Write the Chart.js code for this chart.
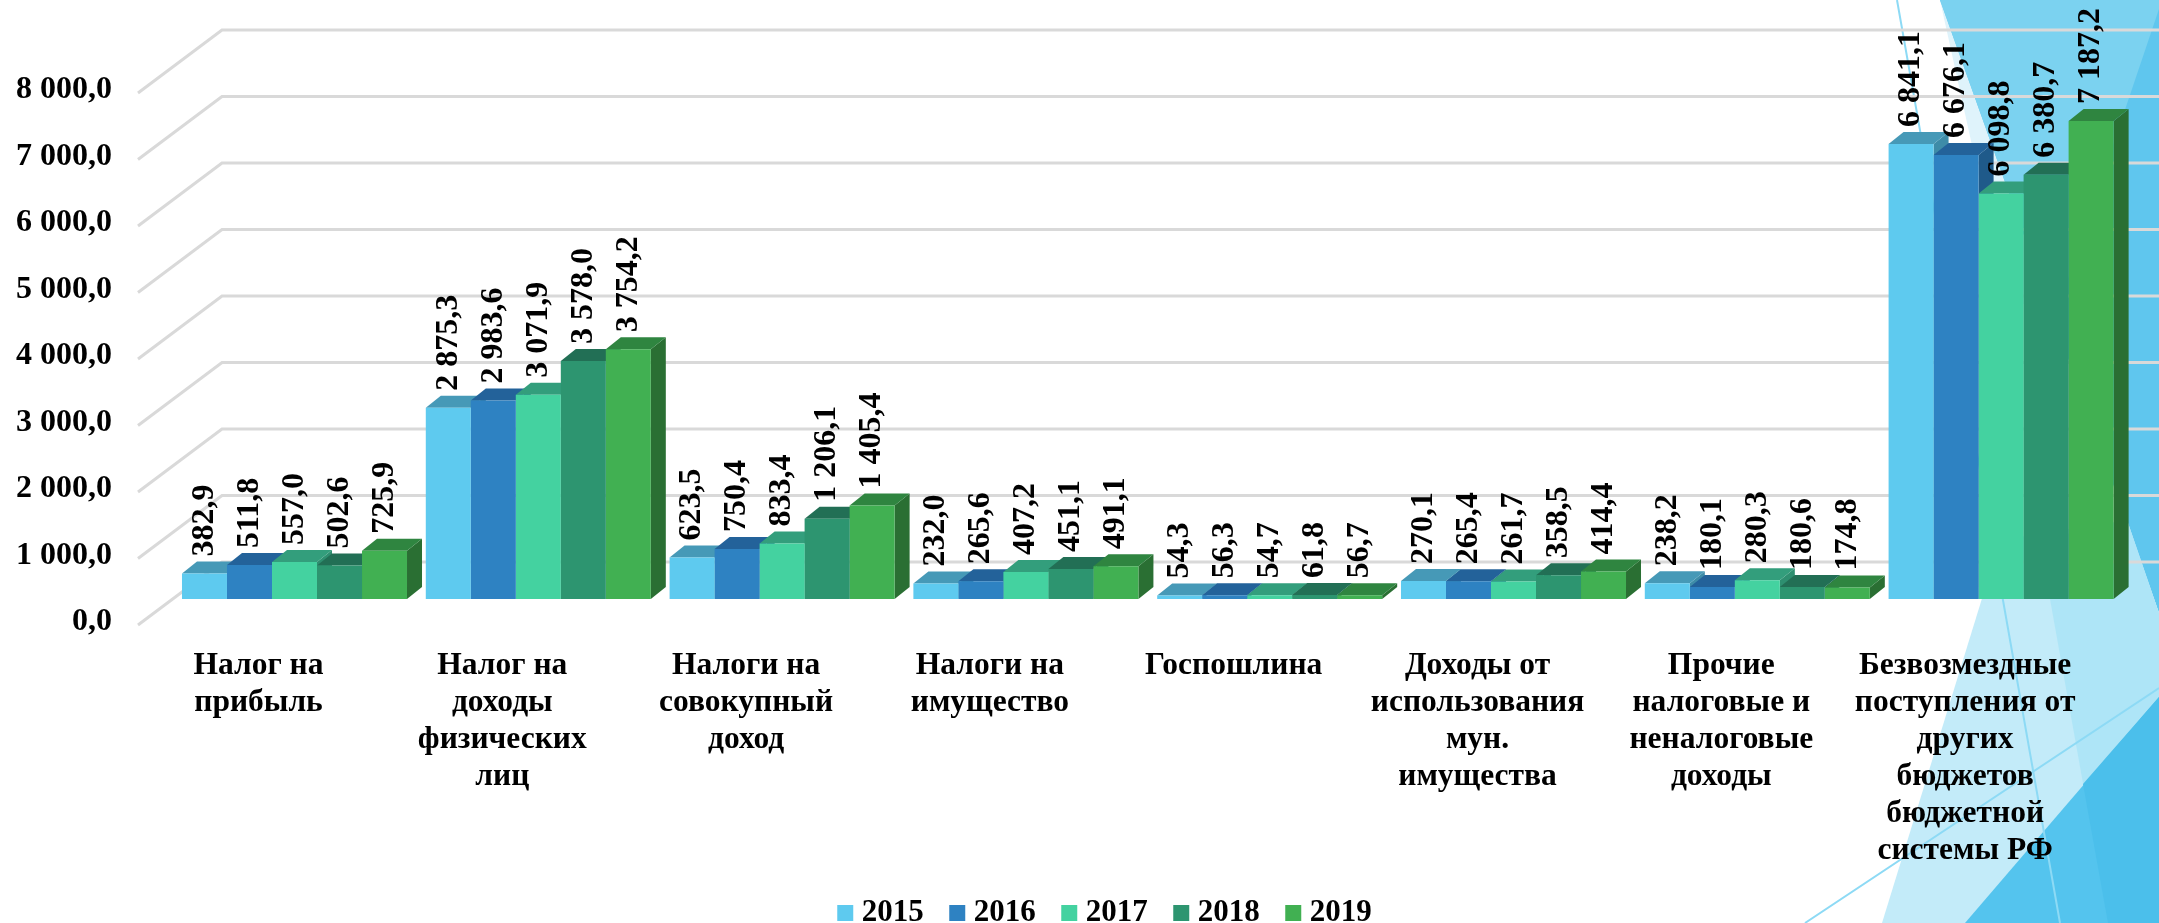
<!DOCTYPE html>
<html><head><meta charset="utf-8">
<style>html,body{margin:0;padding:0;background:#fff}canvas{display:block}</style>
<script src="https://cdn.jsdelivr.net/npm/chart.js@4"></script>
</head><body><div style="width:2159px;height:923px;position:relative"><canvas id="c"></canvas></div>
<script>
const categories = [
  ["Налог на","прибыль"],
  ["Налог на","доходы","физических","лиц"],
  ["Налоги на","совокупный","доход"],
  ["Налоги на","имущество"],
  ["Госпошлина"],
  ["Доходы от","использования","мун.","имущества"],
  ["Прочие","налоговые и","неналоговые","доходы"],
  ["Безвозмездные","поступления от","других","бюджетов","бюджетной","системы РФ"]
];
const years = ["2015","2016","2017","2018","2019"];
const v2015 = [382.9,2875.3,623.5,232.0,54.3,270.1,238.2,6841.1];
const v2016 = [511.8,2983.6,750.4,265.6,56.3,265.4,180.1,6676.1];
const v2017 = [557.0,3071.9,833.4,407.2,54.7,261.7,280.3,6098.8];
const v2018 = [502.6,3578.0,1206.1,451.1,61.8,358.5,180.6,6380.7];
const v2019 = [725.9,3754.2,1405.4,491.1,56.7,414.4,174.8,7187.2];
const seriesValues = [v2015,v2016,v2017,v2018,v2019];
const frontColors = ["#5ECAEF","#2E82C2","#44D2A0","#2D9570","#41B052"];
const topColors   = ["#4699B7","#23629A","#339E7C","#226F55","#2F8540"];
const sideColors  = ["#3E8CA8","#1F5A8A","#2E8F70","#1F6A4F","#2A6F33"];

const FONT = '"Liberation Serif"';
const DEPTH_X = 15, DEPTH_Y = 12;       // bar depth
const BACK_X = 222, FRONT_X = 138;      // side wall of the grid
const BACK_DY = -37, FRONT_DY = 26;     // grid planes relative to the bar plane

function fmt(v){
  const s = v.toFixed(1).split(".");
  return s[0].replace(/\B(?=(\d{3})+$)/g," ") + "," + s[1];
}
function poly(ctx,color,pts){
  ctx.fillStyle=color;ctx.beginPath();
  pts.forEach((p,i)=>i?ctx.lineTo(p[0],p[1]):ctx.moveTo(p[0],p[1]));
  ctx.closePath();ctx.fill();
}
const decor = {
  id:"decor",
  afterLayout(chart){
    const l=chart.legend;
    l.left+=46.5;l.right+=46.5;
    l.top=865;l.bottom=865+l.height;
    chart.scales.x.bottom=923;
  },
  beforeDraw(chart){
    const ctx=chart.ctx;ctx.save();
    ctx.fillStyle="#fff";ctx.fillRect(0,0,2159,923);
    poly(ctx,"#DFF3FB",[[1940,0],[2050,310],[2006,300]]);
    poly(ctx,"#5FC6EE",[[1940,0],[2159,0],[2159,613]]);
    poly(ctx,"#7BD2F0",[[1940,0],[2162,0],[2054,320]]);
    poly(ctx,"#C3EBF9",[[2000,540],[2127,520],[2159,613],[2159,923],[1882,923]]);
    poly(ctx,"#AEE5F7",[[2040,540],[2127,520],[2159,613],[2159,923],[2108,923],[2050,599]]);
    poly(ctx,"#54C4EE",[[1965,923],[2159,697],[2159,923]]);
    poly(ctx,"#4BBFEB",[[2083,784],[2159,697],[2159,923],[2108,923]]);
    ctx.strokeStyle="#8DDAF5";ctx.lineWidth=2;
    ctx.beginPath();ctx.moveTo(1897,0);ctx.lineTo(2060,923);
    ctx.moveTo(1805,923);ctx.lineTo(2159,688);ctx.stroke();
    ctx.restore();
  },
  beforeDatasetsDraw(chart){
    const ctx=chart.ctx,y=chart.scales.y;
    ctx.save();
    // grid: back wall and side wall
    ctx.strokeStyle="#D9D9D9";ctx.lineWidth=3;
    y.ticks.forEach(t=>{
      const p=y.getPixelForValue(t.value);
      ctx.beginPath();
      ctx.moveTo(FRONT_X,p+FRONT_DY);
      ctx.lineTo(BACK_X,p+BACK_DY);
      ctx.lineTo(2159,p+BACK_DY);
      ctx.stroke();
    });
    // bar sides and tops, painted left to right
    const n=categories.length;
    for(let c=0;c<n;c++){
      seriesValues.forEach((_,d)=>{
        const b=chart.getDatasetMeta(d).data[c];
        const l=b.x-b.width/2,r=b.x+b.width/2,t=b.y,base=b.base;
        poly(ctx,sideColors[d],[[r,t],[r+DEPTH_X,t-DEPTH_Y],[r+DEPTH_X,base-DEPTH_Y],[r,base]]);
        poly(ctx,topColors[d],[[l,t],[l+DEPTH_X,t-DEPTH_Y],[r+DEPTH_X,t-DEPTH_Y],[r,t]]);
      });
    }
    ctx.restore();
  },
  afterDatasetsDraw(chart){
    const ctx=chart.ctx;
    ctx.save();
    ctx.fillStyle="#000";
    ctx.font='bold 32px '+FONT;
    ctx.textAlign="left";ctx.textBaseline="middle";
    seriesValues.forEach((vals,d)=>{
      chart.getDatasetMeta(d).data.forEach((b,i)=>{
        ctx.save();
        ctx.translate(b.x,b.y-17);
        ctx.rotate(-Math.PI/2);
        ctx.fillText(fmt(vals[i]),0,0);
        ctx.restore();
      });
    });
    ctx.restore();
  }
};
const AREA_BOTTOM=599, LEFT=172.6;
new Chart(document.getElementById("c"),{
  type:"bar",
  data:{
    labels:categories,
    datasets:years.map((y,i)=>({label:y,data:seriesValues[i],backgroundColor:frontColors[i],borderWidth:0,
      barPercentage:1,categoryPercentage:0.923}))
  },
  options:{
    responsive:true,maintainAspectRatio:false,animation:false,
    layout:{padding:{left:0,right:36,top:67,bottom:0}},
    plugins:{
      tooltip:{enabled:false},
      legend:{position:"bottom",labels:{
        color:"#000",font:{family:FONT,weight:"bold",size:31},
        boxWidth:2,boxHeight:2,padding:32.5,
        generateLabels(chart){
          return Chart.defaults.plugins.legend.labels.generateLabels(chart).map(l=>({...l,lineWidth:14,strokeStyle:l.fillStyle}));
        }
      }}
    },
    scales:{
      x:{
        grid:{display:false,drawTicks:false},border:{display:false},
        ticks:{color:"#000",font:{family:FONT,weight:"bold",size:31.5,lineHeight:1.175},padding:48,labelOffset:-36,maxRotation:0,minRotation:0,autoSkip:false},
        afterFit(s){s.height=923-AREA_BOTTOM-(s.chart.legend?s.chart.legend.height:0);s.paddingLeft=0;s.paddingRight=0;}
      },
      y:{
        min:0,max:8000,
        grid:{display:false,drawTicks:false},border:{display:false},
        ticks:{stepSize:1000,color:"#000",font:{family:FONT,weight:"bold",size:32},padding:60.6,labelOffset:23,callback:v=>fmt(v)},
        afterFit(s){s.width=LEFT;s.paddingTop=0;s.paddingBottom=0;}
      }
    }
  },
  plugins:[decor]
});
</script></body></html>
